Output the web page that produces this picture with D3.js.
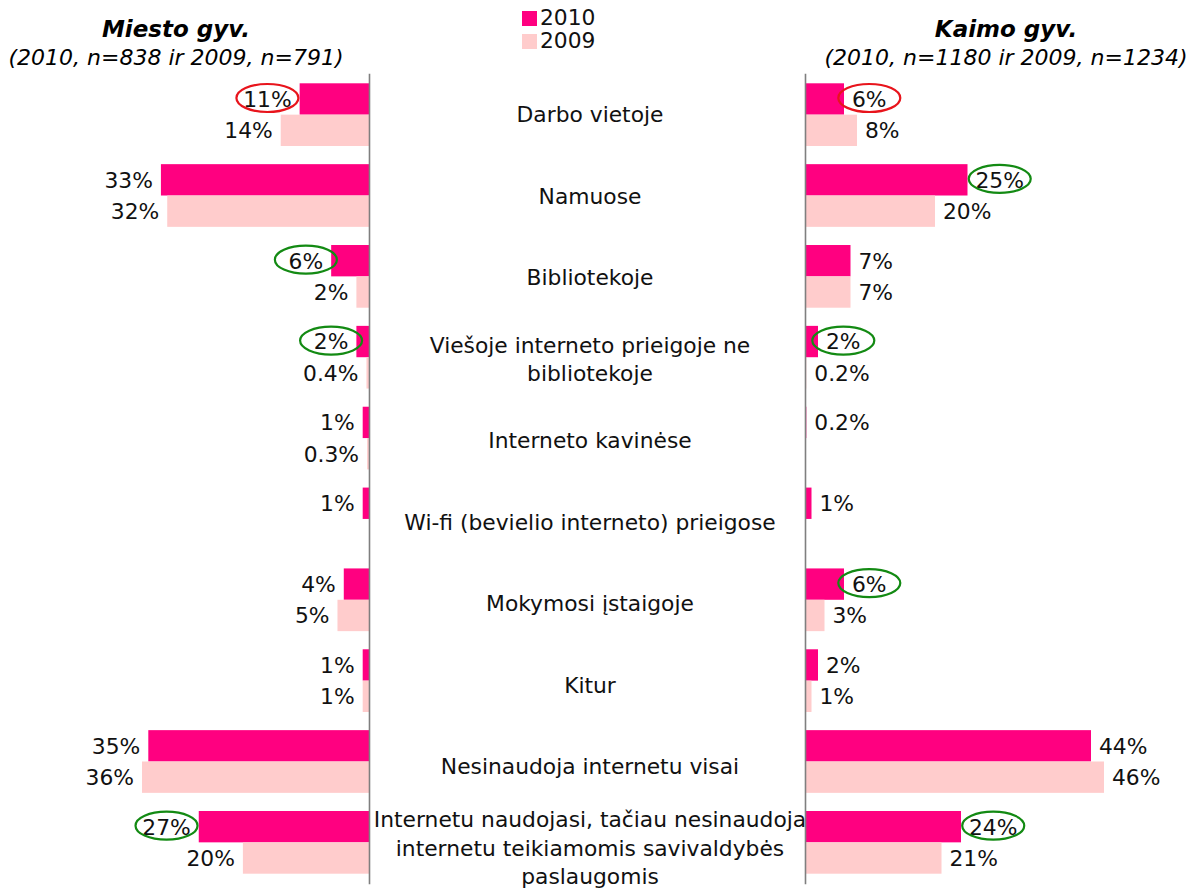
<!DOCTYPE html>
<html>
<head>
<meta charset="utf-8">
<script src="https://cdnjs.cloudflare.com/ajax/libs/d3/7.8.5/d3.min.js"></script>
<style>
  html, body { margin: 0; padding: 0; background: #fff; }
  svg { display: block; font-family: "DejaVu Sans", Verdana, sans-serif; }
</style>
</head>
<body>
<svg id="chart" width="1202" height="890"></svg>
<script>
// Where internet is used: urban vs rural residents, 2010 vs 2009 (%)
const categories = [
  "Darbo vietoje",
  "Namuose",
  "Bibliotekoje",
  "Viešoje interneto prieigoje ne\nbibliotekoje",
  "Interneto kavinėse",
  "Wi-fi (bevielio interneto) prieigose",
  "Mokymosi įstaigoje",
  "Kitur",
  "Nesinaudoja internetu visai",
  "Internetu naudojasi, tačiau nesinaudoja\ninternetu teikiamomis savivaldybės\npaslaugomis"
];
const years = ["2010", "2009"];

const urban2010 = [11, 33, 6, 2, 1, 1, 4, 1, 35, 27];
const urban2009 = [14, 32, 2, 0.4, 0.3, null, 5, 1, 36, 20];
const rural2010 = [6, 25, 7, 2, 0.2, 1, 6, 2, 44, 24];
const rural2009 = [8, 20, 7, 0.2, null, null, 3, 1, 46, 21];

// notable 2010 changes against 2009
const urbanChange = ["fall", null, "rise", "rise", null, null, null, null, null, "rise"];
const ruralChange = ["fall", "rise", null, "rise", null, null, "rise", null, null, "rise"];

const titles = {
  urban: ["Miesto gyv.", "(2010, n=838 ir 2009, n=791)"],
  rural: ["Kaimo gyv.", "(2010, n=1180 ir 2009, n=1234)"]
};

const yearColor = { "2010": "#ff0080", "2009": "#ffcccc" };
const changeColor = { fall: "#e8141c", rise: "#138a13" };

const svg = d3.select("#chart");

const y = d3.scaleBand().domain(categories).range([83.3, 873.7]).paddingInner(0.2245).paddingOuter(0);
const ySub = d3.scaleBand().domain(years).range([0, y.bandwidth()]);

const leftZero = 369, rightZero = 805;
const xL = d3.scaleLinear().domain([0, 36]).range([leftZero, 142]);
const xR = d3.scaleLinear().domain([0, 46]).range([rightZero, 1104]);

const fmt = v => (v < 1 ? d3.format(".1f")(v) : d3.format("d")(v)) + "%";
const fontSize = 21.8;

function panel(x, vals2010, vals2009, change, side) {
  const g = svg.append("g");
  const rows = [];
  categories.forEach((c, i) => {
    rows.push({ c, year: "2010", v: vals2010[i], change: change[i] });
    rows.push({ c, year: "2009", v: vals2009[i], change: null });
  });
  const data = rows.filter(d => d.v != null);

  g.selectAll("rect").data(data).join("rect")
    .attr("x", d => Math.min(x(0), x(d.v)))
    .attr("width", d => Math.abs(x(d.v) - x(0)))
    .attr("y", d => y(d.c) + ySub(d.year))
    .attr("height", ySub.bandwidth())
    .attr("fill", d => yearColor[d.year]);

  const labels = g.selectAll("text.val").data(data).join("text")
    .attr("class", "val")
    .attr("x", d => side === "left" ? x(d.v) - 8 : x(d.v) + 8)
    .attr("y", d => y(d.c) + ySub(d.year) + ySub.bandwidth() / 2)
    .attr("dy", "0.36em")
    .attr("text-anchor", side === "left" ? "end" : "start")
    .attr("font-size", fontSize)
    .attr("fill", "#111")
    .text(d => fmt(d.v));

  labels.each(function (d) {
    if (!d.change) return;
    const w = this.getComputedTextLength();
    const tx = +this.getAttribute("x");
    const cx = side === "left" ? tx - w / 2 : tx + w / 2;
    g.append("ellipse")
      .attr("cx", cx)
      .attr("cy", y(d.c) + ySub(d.year) + ySub.bandwidth() / 2 - 1)
      .attr("rx", 31)
      .attr("ry", 14)
      .attr("fill", "none")
      .attr("stroke", changeColor[d.change])
      .attr("stroke-width", 2.2);
  });

  // vertical baseline of the panel
  const yLine = y.copy().range([y.range()[0] - 10, y.range()[1] + 10]);
  const axis = side === "left" ? d3.axisLeft(yLine) : d3.axisRight(yLine);
  const ax = g.append("g")
    .attr("transform", `translate(${x(0)},0)`)
    .call(axis.tickSize(0).tickFormat(""));
  ax.select(".domain").attr("stroke", "#7f7f7f").attr("stroke-width", 1.6);
}

panel(xL, urban2010, urban2009, urbanChange, "left");
panel(xR, rural2010, rural2009, ruralChange, "right");

// category labels between the panels
const midX = (leftZero + rightZero) / 2 + 3;
const lineH = 28.5;
categories.forEach((c, i) => {
  const lines = c.split("\n");
  const cy = y(c) + y.bandwidth() / 2 + i * 0.6;
  const t = svg.append("text")
    .attr("x", midX)
    .attr("text-anchor", "middle")
    .attr("font-size", fontSize)
    .attr("fill", "#111");
  lines.forEach((ln, k) => {
    t.append("tspan")
      .attr("x", midX)
      .attr("y", cy + (k - (lines.length - 1) / 2) * lineH)
      .attr("dy", "0.36em")
      .text(ln);
  });
});

// panel titles
[[titles.urban, 176], [titles.rural, 1006]].forEach(([tt, cx]) => {
  svg.append("text").attr("x", cx).attr("y", 37)
    .attr("text-anchor", "middle").attr("font-size", 23)
    .attr("font-weight", "bold").attr("font-style", "italic")
    .text(tt[0]);
  svg.append("text").attr("x", cx).attr("y", 65)
    .attr("text-anchor", "middle").attr("font-size", 22)
    .attr("font-style", "italic")
    .text(tt[1]);
});

// legend
const leg = svg.append("g").attr("transform", "translate(522,11)");
years.forEach((yr, i) => {
  leg.append("rect").attr("x", 0).attr("y", i * 23).attr("width", 15).attr("height", 15)
    .attr("fill", yearColor[yr]);
  leg.append("text").attr("x", 18).attr("y", i * 23 + 14)
    .attr("font-size", 21.8).attr("fill", "#111").text(yr);
});
</script>
</body>
</html>
